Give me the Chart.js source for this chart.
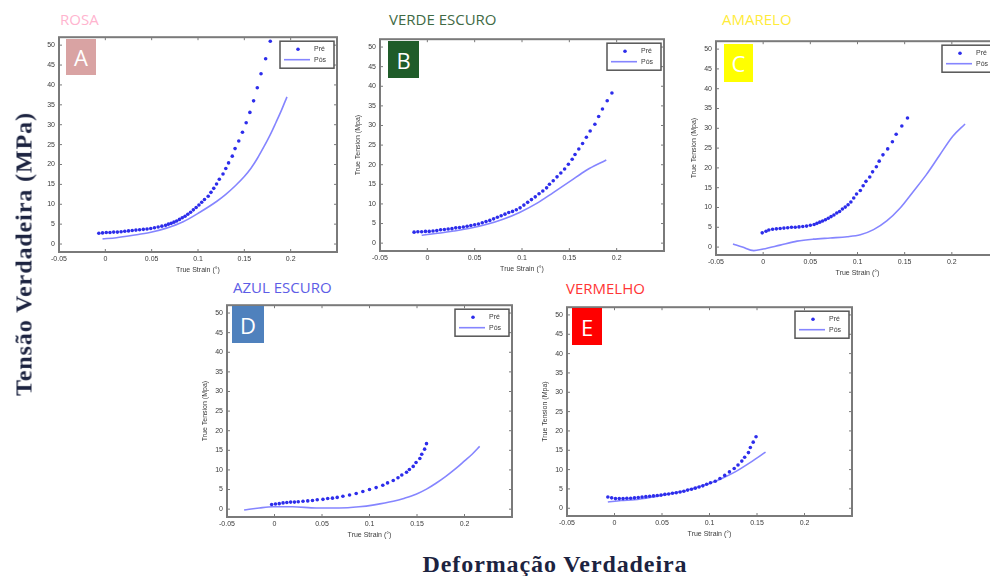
<!DOCTYPE html>
<html>
<head>
<meta charset="utf-8">
<script src="https://cdn.jsdelivr.net/npm/chart.js@4.4.1/dist/chart.umd.min.js"></script>
<style>
  html, body { margin:0; padding:0; background:#fff; width:990px; height:576px; overflow:hidden; position:relative; }
  .panel { position:absolute; }
  .hdr { position:absolute; font-family:"Open Sans", sans-serif; font-size:15px; line-height:15px; white-space:nowrap; }
  .badge { position:absolute; color:#fff; font-family:"Open Sans", sans-serif; font-size:22px; display:flex; align-items:center; justify-content:center; }
  .big { position:absolute; font-family:"Liberation Serif", "Times New Roman", serif; font-weight:bold; font-size:24px; letter-spacing:0.9px; color:#1c2340; white-space:nowrap; }
</style>
</head>
<body>
<script>
// ---------------- DATA ----------------
const panelLetters = ['A', 'B', 'C', 'D', 'E'];
const panelNames = ['ROSA', 'VERDE ESCURO', 'AMARELO', 'AZUL ESCURO', 'VERMELHO'];
const seriesNames = ['Pré', 'Pós'];
const xTitle = 'True Strain (°)';
const yTitle = 'True Tension (Mpa)';
const bigYTitle = 'Tensão Verdadeira (MPa)';
const bigXTitle = 'Deformação Verdadeira';

const xTickValues = [-0.05, 0, 0.05, 0.1, 0.15, 0.2, 0.25];
const xTickLabels = ['-0.05', '0', '0.05', '0.1', '0.15', '0.2', ''];
const yTickValues = [0, 5, 10, 15, 20, 25, 30, 35, 40, 45, 50];
const yTickLabels = ['0', '5', '10', '15', '20', '25', '30', '35', '40', '45', '50'];

// Panel A (ROSA)
const preA = [[-0.007,2.7],[-0.003,2.8],[0.001,2.9],[0.005,2.9],[0.009,3.0],[0.013,3.0],[0.017,3.1],[0.021,3.2],[0.025,3.3],[0.029,3.4],[0.033,3.5],[0.037,3.6],[0.041,3.7],[0.045,3.8],[0.049,3.9],[0.053,4.1],[0.057,4.3],[0.061,4.5],[0.065,4.7],[0.068,5.0],[0.071,5.2],[0.074,5.5],[0.077,5.8],[0.080,6.2],[0.083,6.6],[0.086,7.0],[0.089,7.5],[0.092,8.0],[0.095,8.6],[0.098,9.2],[0.101,9.8],[0.104,10.5],[0.107,11.2],[0.111,12.0],[0.114,13.0],[0.117,14.0],[0.120,15.1],[0.123,16.3],[0.127,17.6],[0.130,19.0],[0.133,20.4],[0.137,22.1],[0.140,24.0],[0.144,25.9],[0.148,28.1],[0.152,30.5],[0.156,33.1],[0.160,36.0],[0.164,39.3],[0.168,42.8],[0.173,46.6],[0.178,51.0]];
const posA = [[-0.003,1.3],[0.012,1.6],[0.030,2.2],[0.048,2.9],[0.066,4.0],[0.084,5.6],[0.102,8.0],[0.120,10.7],[0.130,12.5],[0.140,14.6],[0.150,17.0],[0.157,19.0],[0.164,21.5],[0.171,24.4],[0.178,27.5],[0.184,30.5],[0.190,33.6],[0.196,37.0]];

// Panel B (VERDE ESCURO)
const preB = [[-0.014,2.8],[-0.010,2.9],[-0.006,2.9],[-0.002,3.0],[0.002,3.0],[0.006,3.1],[0.010,3.2],[0.014,3.4],[0.018,3.5],[0.022,3.6],[0.026,3.7],[0.030,3.9],[0.034,4.0],[0.038,4.1],[0.042,4.3],[0.046,4.5],[0.050,4.7],[0.054,4.9],[0.058,5.2],[0.062,5.5],[0.066,5.8],[0.070,6.2],[0.074,6.6],[0.078,7.0],[0.082,7.4],[0.086,7.8],[0.090,8.1],[0.094,8.5],[0.098,9.0],[0.102,9.7],[0.106,10.4],[0.110,11.1],[0.114,11.8],[0.118,12.6],[0.122,13.3],[0.126,14.1],[0.129,15.0],[0.133,15.9],[0.137,16.9],[0.141,17.9],[0.145,18.9],[0.149,20.1],[0.153,21.4],[0.156,22.6],[0.160,24.0],[0.164,25.4],[0.168,27.0],[0.172,28.6],[0.177,30.3],[0.181,32.3],[0.185,34.2],[0.190,36.3],[0.195,38.3]];
const posB = [[-0.006,2.0],[0.000,2.2],[0.014,2.6],[0.028,3.1],[0.045,3.8],[0.063,4.8],[0.080,6.1],[0.098,7.9],[0.116,10.2],[0.133,12.9],[0.151,15.8],[0.168,18.6],[0.189,21.2]];

// Panel C (AMARELO)
const preC = [[-0.001,3.6],[0.003,4.0],[0.006,4.3],[0.010,4.5],[0.014,4.6],[0.018,4.7],[0.022,4.8],[0.026,4.9],[0.030,5.0],[0.034,5.0],[0.038,5.1],[0.042,5.2],[0.046,5.3],[0.050,5.5],[0.054,5.7],[0.057,6.0],[0.060,6.3],[0.063,6.6],[0.066,6.9],[0.069,7.3],[0.072,7.7],[0.075,8.1],[0.078,8.6],[0.081,9.0],[0.084,9.6],[0.087,10.1],[0.090,10.7],[0.093,11.4],[0.096,12.4],[0.099,13.4],[0.103,14.3],[0.106,15.5],[0.109,16.6],[0.113,17.7],[0.116,19.0],[0.120,20.3],[0.123,21.7],[0.127,23.3],[0.132,24.8],[0.137,26.6],[0.141,28.5],[0.147,30.6],[0.153,32.6]];
const posC = [[-0.032,0.8],[-0.022,0.0],[-0.010,-0.9],[0.000,-0.5],[0.018,0.5],[0.036,1.5],[0.053,2.0],[0.071,2.3],[0.089,2.6],[0.103,3.1],[0.117,4.4],[0.131,6.6],[0.145,9.8],[0.159,14.0],[0.173,18.3],[0.187,23.2],[0.201,28.0],[0.214,31.1]];

// Panel D (AZUL ESCURO)
const preD = [[-0.003,1.2],[0.001,1.3],[0.005,1.4],[0.009,1.6],[0.013,1.7],[0.017,1.8],[0.021,1.8],[0.025,1.9],[0.030,2.0],[0.035,2.1],[0.040,2.2],[0.045,2.4],[0.051,2.5],[0.056,2.7],[0.061,2.8],[0.066,3.0],[0.072,3.3],[0.079,3.6],[0.086,4.0],[0.093,4.5],[0.100,5.0],[0.107,5.5],[0.114,6.1],[0.119,6.7],[0.125,7.3],[0.130,8.0],[0.134,8.7],[0.139,9.4],[0.142,10.1],[0.146,10.9],[0.149,11.9],[0.153,12.9],[0.155,14.0],[0.158,15.3],[0.160,16.7]];
const posD = [[-0.032,-0.2],[-0.016,0.3],[-0.002,0.6],[0.019,0.6],[0.044,0.3],[0.068,0.3],[0.089,0.6],[0.105,1.1],[0.125,2.0],[0.137,2.8],[0.149,3.8],[0.160,5.1],[0.170,6.6],[0.180,8.3],[0.190,10.2],[0.200,12.3],[0.208,14.0],[0.216,16.0]];

// Panel E (VERMELHO)
const preE = [[-0.007,2.9],[-0.003,2.7],[0.001,2.5],[0.005,2.5],[0.009,2.5],[0.013,2.6],[0.017,2.6],[0.021,2.7],[0.025,2.8],[0.029,2.9],[0.033,3.0],[0.037,3.1],[0.041,3.2],[0.045,3.3],[0.049,3.4],[0.053,3.6],[0.057,3.7],[0.061,3.9],[0.065,4.0],[0.069,4.2],[0.073,4.4],[0.077,4.7],[0.081,4.9],[0.085,5.2],[0.089,5.5],[0.093,5.8],[0.097,6.2],[0.101,6.6],[0.106,7.0],[0.111,7.7],[0.116,8.5],[0.121,9.4],[0.126,10.3],[0.130,11.2],[0.134,12.2],[0.137,13.2],[0.141,14.4],[0.143,15.7],[0.146,17.1],[0.149,18.5]];
const posE = [[-0.007,1.6],[0.007,2.0],[0.021,2.2],[0.040,2.9],[0.057,3.7],[0.075,4.6],[0.092,5.8],[0.104,6.8],[0.113,7.7],[0.127,9.4],[0.144,12.0],[0.159,14.5]];

const preSeries = [preA, preB, preC, preD, preE];
const posSeries = [posA, posB, posC, posD, posE];

// ---------------- LAYOUT / STYLE ----------------
const PLOTS = [
  {l:59,  t:33,  r:337, b:252, yTitle:false},
  {l:380, t:35,  r:664, b:251, yTitle:true},
  {l:716, t:37,  r:999, b:255, yTitle:true},
  {l:227, t:301, r:512, b:517, yTitle:true},
  {l:567, t:303, r:852, b:516, yTitle:true}
];
const HEADERS = [
  {x:60,  y:12, color:'#ffb5cf'},
  {x:389, y:12, color:'#3f6a45'},
  {x:722, y:12, color:'#ffec3a'},
  {x:233, y:280, color:'#5d5de6'},
  {x:566, y:281, color:'#ff3535'}
];
const BADGES = [
  {x:66,  y:39,  w:30, h:36, bg:'#d9a3a3'},
  {x:388, y:41,  w:31, h:37, bg:'#1f5c29'},
  {x:724, y:44,  w:29, h:38, bg:'#ffff00'},
  {x:232, y:306, w:32, h:37, bg:'#4f81bd'},
  {x:572, y:308, w:30, h:37, bg:'#ff0000'}
];
const YW = 26, XH = 22, PT = 4, PR = 4;
const DOT = 'rgb(45,45,235)';
const LINE = 'rgba(120,120,255,0.9)';
const FRAME = '#7a7a7a';
const TXT = '#3a3a3a';
const FONT = {family:'Liberation Sans, Arial, sans-serif', size:7};

const framePlugin = {
  id: 'frameTicks',
  beforeDatasetsDraw(chart) {
    const {ctx, chartArea:a, scales:{x, y}} = chart;
    ctx.save();
    ctx.strokeStyle = FRAME;
    ctx.lineWidth = 1;
    ctx.beginPath();
    xTickValues.forEach(v => {
      const px = x.getPixelForValue(v);
      ctx.moveTo(px, a.bottom); ctx.lineTo(px, a.bottom - 3);
      ctx.moveTo(px, a.top); ctx.lineTo(px, a.top + 3);
    });
    yTickValues.forEach(v => {
      const py = y.getPixelForValue(v);
      ctx.moveTo(a.left, py); ctx.lineTo(a.left + 3, py);
      ctx.moveTo(a.right, py); ctx.lineTo(a.right - 3, py);
    });
    ctx.stroke();
    ctx.lineWidth = 2;
    ctx.strokeRect(a.left, a.top, a.right - a.left, a.bottom - a.top);
    ctx.restore();
  }
};

const legendPlugin = {
  id: 'innerLegend',
  afterDraw(chart) {
    const {ctx, chartArea:a} = chart;
    const w = 54, h = 27;
    const bx = a.right - 3 - w, by = a.top + 4;
    ctx.save();
    ctx.fillStyle = '#fff';
    ctx.fillRect(bx, by, w, h);
    ctx.strokeStyle = '#555';
    ctx.lineWidth = 1.5;
    ctx.strokeRect(bx, by, w, h);
    ctx.fillStyle = DOT;
    ctx.beginPath(); ctx.arc(bx + 18, by + 8, 1.8, 0, Math.PI * 2); ctx.fill();
    ctx.strokeStyle = LINE; ctx.lineWidth = 1.6;
    ctx.beginPath(); ctx.moveTo(bx + 4, by + 18.5); ctx.lineTo(bx + 30, by + 18.5); ctx.stroke();
    ctx.fillStyle = TXT;
    ctx.font = '7px "Liberation Sans", Arial, sans-serif';
    ctx.textBaseline = 'middle';
    ctx.fillText(seriesNames[0], bx + 34, by + 8);
    ctx.fillText(seriesNames[1], bx + 34, by + 18.5);
    ctx.restore();
  }
};

function toPts(arr) { return arr.map(([x, y]) => ({x, y})); }

PLOTS.forEach((p, i) => {
  const div = document.createElement('div');
  div.className = 'panel';
  div.style.left = (p.l - YW) + 'px';
  div.style.top = (p.t - PT) + 'px';
  div.style.width = (p.r - p.l + YW + PR) + 'px';
  div.style.height = (p.b - p.t + PT + XH) + 'px';
  const cv = document.createElement('canvas');
  div.appendChild(cv);
  document.body.appendChild(div);

  new Chart(cv, {
    type: 'scatter',
    data: {
      datasets: [
        {label: seriesNames[0], data: toPts(preSeries[i]), showLine: false,
         pointRadius: 1.8, pointHoverRadius: 1.8, pointBorderWidth: 0,
         backgroundColor: DOT, borderColor: DOT},
        {label: seriesNames[1], data: toPts(posSeries[i]), showLine: true,
         pointRadius: 0, borderColor: LINE, borderWidth: 1.6,
         cubicInterpolationMode: 'monotone', fill: false}
      ]
    },
    options: {
      animation: false,
      responsive: true,
      maintainAspectRatio: false,
      layout: {padding: {top: PT, right: PR, left: 0, bottom: 0}},
      plugins: {legend: {display: false}, tooltip: {enabled: false}},
      scales: {
        x: {
          type: 'linear', min: -0.05, max: 0.25,
          afterBuildTicks: s => { s.ticks = xTickValues.map(v => ({value: v})); },
          afterFit: s => { s.height = XH; },
          grid: {display: false, drawTicks: false},
          border: {display: false},
          ticks: {autoSkip: false, maxRotation: 0, padding: 3, color: TXT, font: FONT,
                  callback: (v, idx) => xTickLabels[idx]},
          title: {display: true, text: xTitle, color: TXT, font: FONT, padding: 0}
        },
        y: {
          type: 'linear', min: -2, max: 52,
          afterBuildTicks: s => { s.ticks = yTickValues.map(v => ({value: v})); },
          afterFit: s => { s.width = YW; },
          grid: {display: false, drawTicks: false},
          border: {display: false},
          ticks: {autoSkip: false, padding: 4, color: TXT, font: FONT,
                  callback: (v, idx) => yTickLabels[idx]},
          title: {display: p.yTitle, text: yTitle, color: TXT, font: FONT, padding: 0}
        }
      }
    },
    plugins: [framePlugin, legendPlugin]
  });

  const h = HEADERS[i];
  const hd = document.createElement('div');
  hd.className = 'hdr';
  hd.style.left = h.x + 'px'; hd.style.top = h.y + 'px'; hd.style.color = h.color;
  hd.textContent = panelNames[i];
  document.body.appendChild(hd);

  const b = BADGES[i];
  const bd = document.createElement('div');
  bd.className = 'badge';
  bd.style.left = b.x + 'px'; bd.style.top = b.y + 'px';
  bd.style.width = b.w + 'px'; bd.style.height = b.h + 'px';
  bd.style.background = b.bg;
  bd.textContent = panelLetters[i];
  document.body.appendChild(bd);
});

const yt = document.createElement('div');
yt.className = 'big';
yt.style.left = '24px'; yt.style.top = '254px';
yt.style.transform = 'translate(-50%,-50%) rotate(-90deg)';
yt.textContent = bigYTitle;
document.body.appendChild(yt);

const xt = document.createElement('div');
xt.className = 'big';
xt.style.left = '555px'; xt.style.top = '552px'; xt.style.lineHeight = '24px';
xt.style.transform = 'translateX(-50%)';
xt.textContent = bigXTitle;
document.body.appendChild(xt);
</script>
</body>
</html>
